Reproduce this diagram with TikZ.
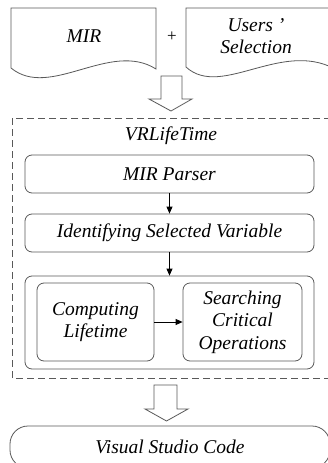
\documentclass[tikz,border=0pt]{standalone}
\usepackage{fontspec}
\setmainfont{Liberation Serif}
\usetikzlibrary{arrows.meta}
\begin{document}
\begin{tikzpicture}[x=1pt, y=-1pt,
    font=\fontsize{19.5}{22.5}\selectfont\itshape,
    box/.style={draw=black!65, line width=0.8pt, rounded corners=7pt, align=center, inner sep=0pt},
    flow/.style={-{Triangle[length=7pt, width=6pt]}, line width=0.8pt},
    hollow/.style={draw=black!65, line width=0.8pt, fill=white}]
    \useasboundingbox (0,0) rectangle (327,463);

    % input documents
    \draw[hollow] (11,68) -- (11,8) -- (156,8) -- (156,69) .. controls (110,40) and (50,100) .. cycle;
    \draw[hollow] (186,67) -- (186,8) -- (340,8) -- (340,72) .. controls (285,36) and (222,100) .. cycle;
    \node (mir) at (84,36) {MIR};
    \node[font=\fontsize{17}{20}\selectfont] (plus) at (172,37) {+};
    \node[align=center] (users) at (256,36) {Users ’\\Selection};

    % big arrows
    \draw[hollow] (161,76) -- (182,76) -- (182,99) -- (192,99) -- (171,111) -- (149,99) -- (161,99) -- cycle;
    \draw[hollow] (154,385) -- (177,385) -- (177,409) -- (188,409) -- (166.5,421) -- (145,409) -- (154,409) -- cycle;

    % the tool
    \draw[black!65, line width=0.8pt, dash pattern=on 7pt off 4pt] (12,118) rectangle (335,378);
    \node (vrl) at (171,136) {VRLifeTime};
    \node[box, minimum width=289pt, minimum height=38pt] (parser) at (169.5,174) {MIR Parser};
    \node[box, minimum width=289pt, minimum height=38pt] (ident) at (169.5,233) {Identifying Selected Variable};
    \node[box, minimum width=289pt, minimum height=93pt] (core) at (169.5,322.5) {};
    \node[box, minimum width=117pt, minimum height=78pt] (comp) at (95.5,322) {Computing\\Lifetime};
    \node[box, minimum width=119pt, minimum height=78pt] (search) at (242.5,322) {Searching\\Critical\\Operations};

    \draw[flow] (parser) -- (ident);
    \draw[flow] (ident) -- (core);
    \draw[flow] (comp) -- (search);

    % output
    \node[box, rounded corners=18pt, minimum width=320pt, minimum height=42pt] (vsc) at (170,447) {Visual Studio Code};
\end{tikzpicture}
\end{document}
